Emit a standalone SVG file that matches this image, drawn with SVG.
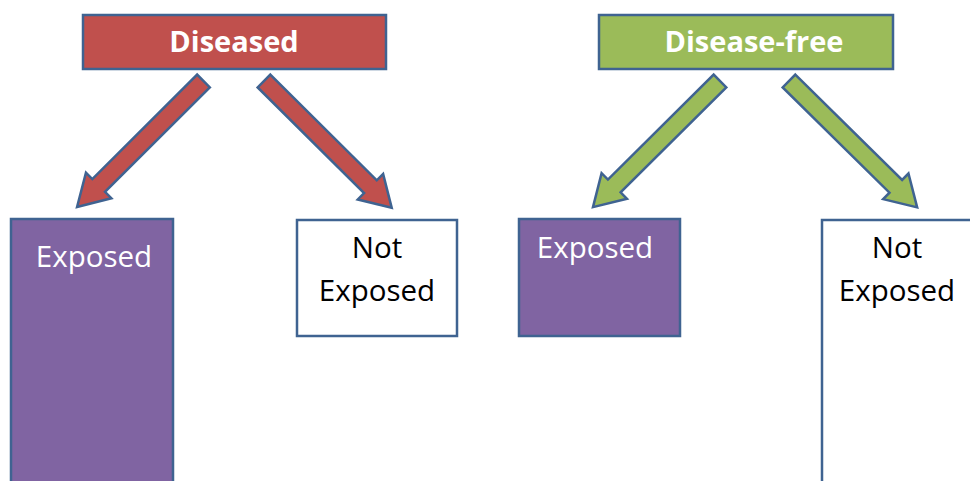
<svg xmlns="http://www.w3.org/2000/svg" width="970" height="481" viewBox="0 0 970 481">
<style>
.box{stroke:#3F6391;stroke-width:2.5}
.red{fill:#C0504D}
.green{fill:#9BBB59}
.purple{fill:#8064A2}
.white{fill:#FFFFFF}
.hdr{font-family:"Open Sans","Liberation Sans",sans-serif;font-weight:bold;font-size:29px;fill:#FFFFFF;text-anchor:middle}
.lbl{font-family:"Open Sans","Liberation Sans",sans-serif;font-size:29.5px;text-anchor:middle}
.arrow{stroke:#3F6391;stroke-width:2.5;stroke-linejoin:miter}
</style>
<rect width="970" height="481" fill="#FFFFFF"/>
<g id="connectors">
  <path class="arrow red" transform="translate(203.5,81) rotate(135.1)" d="M0,-9 L148,-9 L148,-18 L178.5,0 L148,18 L148,9 L0,9 Z"/>
  <path class="arrow red" transform="translate(264,81) rotate(44.8)" d="M0,-9 L150,-9 L150,-18 L180,0 L150,18 L150,9 L0,9 Z"/>
  <path class="arrow green" transform="translate(720,81) rotate(135.2)" d="M0,-9 L149,-9 L149,-18 L179,0 L149,18 L149,9 L0,9 Z"/>
  <path class="arrow green" transform="translate(789,81) rotate(44.6)" d="M0,-9 L150,-9 L150,-18 L180,0 L150,18 L150,9 L0,9 Z"/>
</g>
<g id="diseased">
  <rect class="box red" x="83" y="15" width="303" height="54"/>
  <text class="hdr" x="234" y="52">Diseased</text>
</g>
<g id="disease-free">
  <rect class="box green" x="599" y="15" width="294" height="54"/>
  <text class="hdr" x="754" y="52">Disease-free</text>
</g>
<g id="diseased-exposed">
  <rect class="box purple" x="11" y="219" width="162" height="270"/>
  <text class="lbl" x="94" y="267" fill="#FFFFFF">Exposed</text>
</g>
<g id="diseased-not-exposed">
  <rect class="box white" x="297" y="220" width="160" height="116"/>
  <text class="lbl" x="377" y="258" fill="#000000">Not</text>
  <text class="lbl" x="377" y="301" fill="#000000">Exposed</text>
</g>
<g id="free-exposed">
  <rect class="box purple" x="519" y="219" width="161" height="117"/>
  <text class="lbl" x="595" y="258" fill="#FFFFFF">Exposed</text>
</g>
<g id="free-not-exposed">
  <rect class="box white" x="822" y="220" width="160" height="270"/>
  <text class="lbl" x="897" y="258" fill="#000000">Not</text>
  <text class="lbl" x="897" y="301" fill="#000000">Exposed</text>
</g>
</svg>
